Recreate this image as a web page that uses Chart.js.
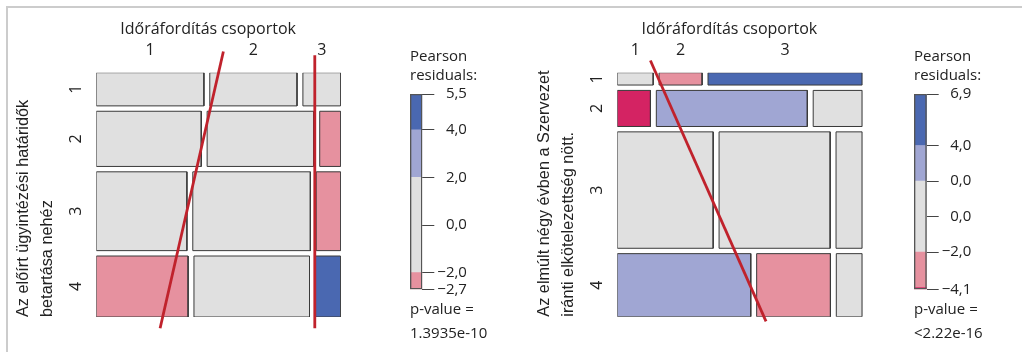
<!DOCTYPE html>
<html>
<head>
<meta charset="utf-8">
<script src="https://cdn.jsdelivr.net/npm/chart.js@4/dist/chart.umd.min.js"></script>
<style>
html, body { margin: 0; padding: 0; background: #fff; }
#wrap { position: relative; width: 1022px; height: 352px; overflow: hidden; background: #fff; }
#frame { position: absolute; left: 6px; top: 6px; width: 1030px; height: 360px;
         border-top: 2px solid #cccccc; border-left: 2px solid #cccccc; }
canvas { position: absolute; }
</style>
</head>
<body>
<div id="wrap">
  <div id="frame"></div>
  <canvas id="mosaicL" width="350" height="352" style="left:0px;top:0px;width:350px;height:352px"></canvas>
  <canvas id="legendL" width="100" height="312" style="left:410px;top:40px;width:100px;height:312px"></canvas>
  <canvas id="mosaicR" width="350" height="352" style="left:520px;top:0px;width:350px;height:352px"></canvas>
  <canvas id="legendR" width="100" height="312" style="left:914px;top:40px;width:100px;height:312px"></canvas>
</div>
<script>
// közös címkék
var colTitle = 'Időráfordítás csoportok';
var colLabels = ['1', '2', '3'];
var rowLabels = ['1', '2', '3', '4'];

// bal oldali ábra
var yTitleL = ['Az előírt ügyintézési határidők', 'betartása nehéz'];
var countsL = [[37, 30, 13], [60, 61, 12], [74, 96, 20], [58, 73, 16]];
var residL = [[0.6, -0.4, -0.5], [0.9, 0.7, -2.2], [1.2, 0.4, -2.7], [-2.5, -0.8, 5.5]];
var legendTicksL = [5.5, 4, 2, 0, -2, -2.7];
var legendLabelsL = ['\u20075,5', '\u20074,0', '\u20072,0', '\u20070,0', '\u22122,0', '\u22122,7'];
var pValueL = '1.3935e-10';
// kézzel rajzolt piros vonalak (tengelyegységben, y felfelé nő)
var redLinesL = [
    [{x: 0.52, y: 1.087}, {x: 0.261, y: -0.046}],
    [{x: 0.894, y: 1.071}, {x: 0.894, y: -0.046}]
];

// jobb oldali ábra
var yTitleR = ['Az elmúlt négy évben a Szervezet', 'iránti elkötelezettség nött.'];
var countsR = [[10, 12, 43], [27, 123, 40], [252, 292, 69], [190, 105, 37]];
var residR = [[-0.9, -2.8, 6.9], [-4.1, 3.2, 0.8], [1.1, 0.5, -1.6], [2.7, -3.3, -0.7]];
var legendTicksR = [6.9, 4, 2, 0, -2, -4.1];
var legendLabelsR = ['\u20076,9', '\u20074,0', '\u20070,0', '\u20070,0', '\u22122,0', '\u22124,1'];
var pValueR = '<2.22e-16';
var redLinesR = [
    [{x: 0.135, y: 1.05}, {x: 0.607, y: -0.019}]
];

Chart.defaults.font.family = "'Open Sans', sans-serif";
Chart.defaults.color = '#222';

var GAP_X = 0.024, GAP_Y = 0.022;
var RED = '#c0222c';

function shade(r) {
    if (r > 4) return '#4a68b1';
    if (r > 2) return '#a0a6d3';
    if (r < -4) return '#d42363';
    if (r < -2) return '#e6919f';
    return '#e0e0e0';
}

function sum(a) { return a.reduce(function (s, v) { return s + v; }, 0); }

// mozaik csempék kiszámítása a gyakoriságokból (első sor felül)
function mosaicLayout(counts) {
    var N = sum(counts.map(sum));
    var availH = 1 - GAP_Y * (counts.length - 1);
    var tiles = [], rowCenters = [], top = 1;
    counts.forEach(function (row, i) {
        var tot = sum(row);
        var h = availH * tot / N;
        var availW = 1 - GAP_X * (row.length - 1);
        var x = 0;
        row.forEach(function (n, j) {
            var w = availW * n / tot;
            tiles.push({i: i, j: j, x0: x, x1: x + w, y0: top, y1: top - h});
            x += w + GAP_X;
        });
        rowCenters.push(top - h / 2);
        top -= h + GAP_Y;
    });
    var colCenters = tiles.filter(function (t) { return t.i === 0; })
        .map(function (t) { return (t.x0 + t.x1) / 2; });
    return {tiles: tiles, rowCenters: rowCenters, colCenters: colCenters};
}

function drawMosaic(id, counts, resid, yTitle, redLines, axisW, pad) {
    var lay = mosaicLayout(counts);
    var datasets = lay.tiles.map(function (t) {
        return {
            data: [{x: t.x0, y: t.y0}, {x: t.x1, y: t.y0}, {x: t.x1, y: t.y1}, {x: t.x0, y: t.y1}, {x: t.x0, y: t.y0}],
            backgroundColor: shade(resid[t.i][t.j]),
            borderColor: '#3a3a3a',
            borderWidth: 1,
            fill: 'shape',
            pointRadius: 0,
            tension: 0,
            order: 1
        };
    });
    redLines.forEach(function (l) {
        datasets.push({
            data: l,
            borderColor: RED,
            borderWidth: 2.8,
            fill: false,
            pointRadius: 0,
            clip: false,
            order: 0
        });
    });
    return new Chart(document.getElementById(id), {
        type: 'line',
        data: {datasets: datasets},
        options: {
            responsive: false,
            animation: false,
            devicePixelRatio: 1,
            events: [],
            layout: {padding: {left: 0, top: 0, right: pad.right, bottom: pad.bottom}},
            plugins: {legend: {display: false}, tooltip: {enabled: false}},
            scales: {
                x: {
                    type: 'linear', position: 'top', min: 0, max: 1,
                    afterBuildTicks: function (s) { s.ticks = lay.colCenters.map(function (v) { return {value: v}; }); },
                    afterFit: function (s) { s.height = 72.7; },
                    ticks: {
                        autoSkip: false, maxRotation: 0, padding: 13,
                        font: {size: 16},
                        callback: function (v, i) { return colLabels[i]; }
                    },
                    grid: {display: false, drawTicks: false},
                    border: {display: false},
                    title: {
                        display: true, text: colTitle + '     ',
                        font: {size: 16}, padding: {top: 19.4, bottom: 0}
                    }
                },
                y: {
                    type: 'linear', position: 'left', min: 0, max: 1,
                    afterBuildTicks: function (s) { s.ticks = lay.rowCenters.map(function (v) { return {value: v}; }); },
                    afterFit: function (s) { s.width = axisW; },
                    ticks: {
                        autoSkip: false, minRotation: 90, maxRotation: 90, crossAlign: 'center', padding: 15,
                        font: {size: 16},
                        callback: function (v, i) { return rowLabels[i]; }
                    },
                    grid: {display: false, drawTicks: false},
                    border: {display: false},
                    title: {
                        display: true, text: yTitle, align: 'start',
                        font: {family: "'Liberation Sans', Arial, sans-serif", size: 16.3, lineHeight: 1.47},
                        padding: {top: pad.title, bottom: 0}
                    }
                }
            }
        }
    });
}

// jelmagyarázat: Pearson-reziduumok színskálája
function drawLegend(id, ticks, labels, pValue, barW) {
    var min = Math.min.apply(null, ticks), max = Math.max.apply(null, ticks);
    var cuts = [min, -4, -2, 2, 4, max].filter(function (c) { return c >= min && c <= max; });
    cuts.sort(function (a, b) { return a - b; });
    var datasets = [];
    for (var k = 0; k < cuts.length - 1; k++) {
        if (cuts[k + 1] <= cuts[k]) continue;
        datasets.push({
            data: [[cuts[k], cuts[k + 1]]],
            backgroundColor: shade((cuts[k] + cuts[k + 1]) / 2),
            borderWidth: 0, grouped: false, barPercentage: 1, categoryPercentage: 1, order: 1
        });
    }
    datasets.push({
        data: [[min, max]],
        backgroundColor: 'rgba(0,0,0,0)', borderColor: '#555', borderWidth: 1, borderSkipped: false,
        grouped: false, barPercentage: 1, categoryPercentage: 1, order: 0
    });
    return new Chart(document.getElementById(id), {
        type: 'bar',
        data: {labels: [''], datasets: datasets},
        options: {
            responsive: false,
            animation: false,
            devicePixelRatio: 1,
            events: [],
            layout: {padding: 0},
            plugins: {
                legend: {display: false},
                tooltip: {enabled: false},
                title: {
                    display: true, text: ['Pearson', 'residuals:'], align: 'start',
                    font: {size: 15, weight: 'normal', lineHeight: 1.2667}, color: '#222',
                    padding: {top: 7.2, bottom: 8.8}
                },
                subtitle: {
                    display: true, position: 'bottom', text: ['p-value =', pValue], align: 'start',
                    font: {size: 15, lineHeight: 1.553}, color: '#222',
                    padding: {top: 9, bottom: 7.1}
                }
            },
            scales: {
                x: {display: false},
                y: {
                    position: 'right', min: min, max: max,
                    afterBuildTicks: function (s) { s.ticks = ticks.map(function (v) { return {value: v}; }); },
                    afterFit: function (s) { s.width = 100 - barW; },
                    ticks: {
                        autoSkip: false, padding: 3, font: {size: 15},
                        callback: function (v, i) { return labels[i]; }
                    },
                    grid: {drawOnChartArea: false, drawTicks: true, tickLength: 12, color: '#444'},
                    border: {display: false}
                }
            }
        }
    });
}

drawMosaic('mosaicL', countsL, residL, yTitleL, redLinesL, 96.3, {right: 9.3, bottom: 35, title: 12});
drawLegend('legendL', legendTicksL, legendLabelsL, pValueL, 12.3);
drawMosaic('mosaicR', countsR, residR, yTitleR, redLinesR, 97.3, {right: 7.7, bottom: 35.3, title: 13});
drawLegend('legendR', legendTicksR, legendLabelsR, pValueR, 12.7);
</script>
</body>
</html>
